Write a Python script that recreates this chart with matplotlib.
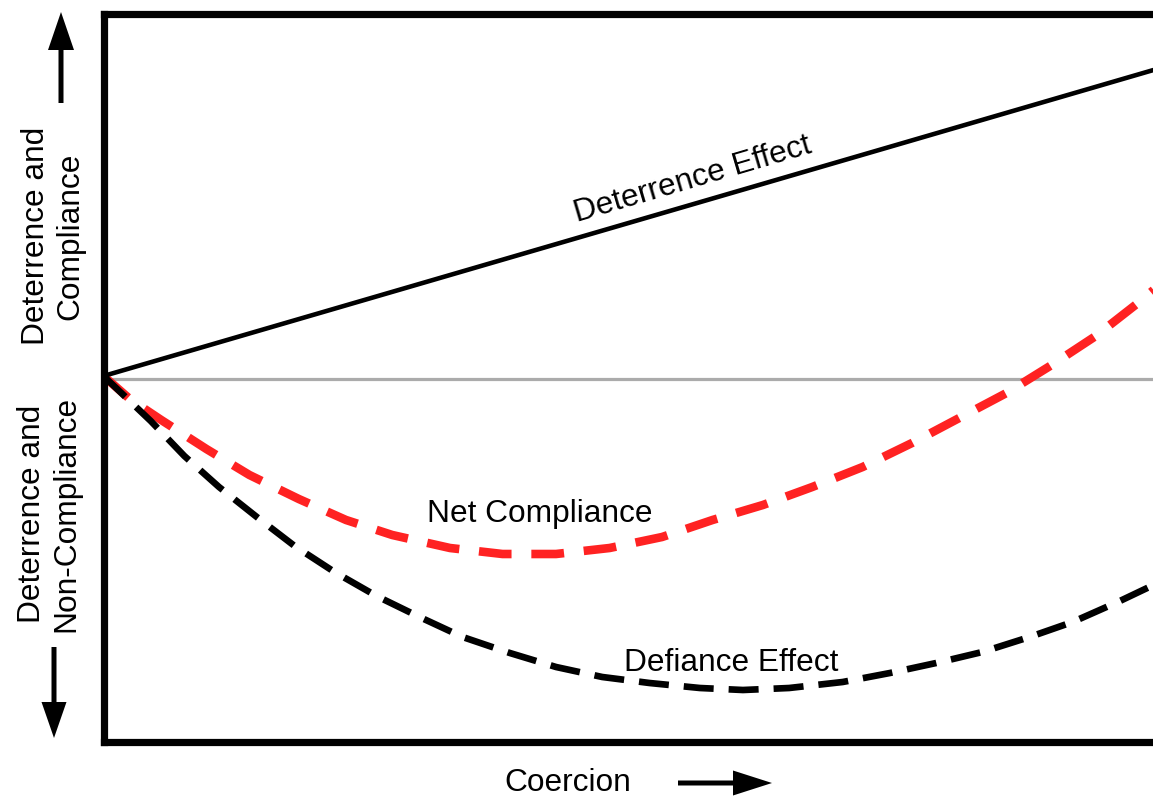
import numpy as np
import matplotlib
matplotlib.use("Agg")
import matplotlib.pyplot as plt
from matplotlib.patches import FancyArrow

plt.rcParams['font.family'] = ['Liberation Sans', 'DejaVu Sans']

# ---- data (coercion on x, effect on y; 0 = neutral) ----
deter_x = [0.0, 10.0]
deter_y = [0.3, 30.9]

net_x = [0.0, 0.25, 0.55, 0.98, 1.39, 1.86, 2.31, 2.75, 3.30, 3.80, 4.31, 4.82, 5.32,
         5.80, 6.28, 6.75, 7.23, 7.70, 8.15, 8.60, 9.03, 9.45, 9.84, 10.0]
net_y = [0.3, -2.0, -4.1, -7.0, -9.6, -12.0, -14.1, -15.6, -16.9, -17.5, -17.5, -16.9, -15.8,
         -14.1, -12.6, -10.8, -8.8, -6.4, -3.9, -1.4, 1.4, 4.3, 7.5, 8.9]

def_x = [0.0, 0.45, 0.77, 1.10, 1.46, 1.82, 2.20, 2.60, 3.01, 3.42, 3.87, 4.31, 4.75,
         5.20, 5.68, 6.09, 6.53, 7.04, 7.49, 7.93, 8.37, 8.82, 9.23, 9.66, 10.0]
def_y = [0.3, -4.2, -7.7, -10.8, -13.8, -16.7, -19.3, -21.7, -23.8, -25.8, -27.4, -28.8, -29.8,
         -30.4, -30.9, -31.1, -30.9, -30.3, -29.4, -28.4, -27.3, -25.8, -24.3, -22.3, -20.6]

labels = {
    'deter': 'Deterrence Effect',
    'net': 'Net Compliance',
    'def': 'Defiance Effect',
    'x': 'Coercion',
    'y_up': 'Deterrence and\nCompliance',
    'y_down': 'Deterrence and\nNon-Compliance',
}

W, H = 1153, 796
fig = plt.figure(figsize=(W / 100, H / 100), dpi=100)

left_px, right_px, top_px, bot_px = 103.5, 1160, 13.5, 742
ax = fig.add_axes([left_px / W, 1 - bot_px / H, (right_px - left_px) / W, (bot_px - top_px) / H])
ax.set_xlim(0, (right_px - left_px) / 105)
ax.set_ylim((379 - bot_px) / 10, (379 - top_px) / 10)
ax.set_xticks([])
ax.set_yticks([])
for s in ax.spines.values():
    s.set_linewidth(5.2)
    s.set_color('black')
    s.set_zorder(5)

ax.axhline(0, color='#ababab', lw=2.3, zorder=1)
ax.plot(deter_x, deter_y, color='black', lw=3.3, solid_capstyle='butt', zorder=3)
ax.plot(net_x, net_y, color='#ff2222', lw=6.2, linestyle=(0, (3.8, 2.3)), zorder=2)
ax.plot(def_x, def_y, color='black', lw=4.8, linestyle=(0, (4.5, 2.25)), zorder=2)

# overlay in pixel coordinates for annotations
ov = fig.add_axes([0, 0, 1, 1], facecolor='none')
ov.set_xlim(0, W)
ov.set_ylim(H, 0)
ov.axis('off')

fs = 22.8
ov.text(693, 180, labels['deter'], fontsize=fs, rotation=16.4, ha='center', va='center',
        rotation_mode='anchor')
ov.text(540, 514, labels['net'], fontsize=fs, ha='center', va='center')
ov.text(731, 663, labels['def'], fontsize=fs, ha='center', va='center')
ov.text(568, 783, labels['x'], fontsize=fs, ha='center', va='center')
ov.text(53, 236, labels['y_up'], fontsize=fs, rotation=90, ha='center', va='center',
        multialignment='center', linespacing=1.2)
ov.text(49, 514, labels['y_down'], fontsize=fs, rotation=90, ha='center', va='center',
        multialignment='center', linespacing=1.2)

# arrows
ov.add_patch(FancyArrow(61, 103, 0, -91, width=5, head_width=26, head_length=38,
                        length_includes_head=True, color='black', lw=0))
ov.add_patch(FancyArrow(54, 647, 0, 91, width=5, head_width=25, head_length=36,
                        length_includes_head=True, color='black', lw=0))
ov.add_patch(FancyArrow(678, 783, 94, 0, width=5, head_width=25, head_length=39,
                        length_includes_head=True, color='black', lw=0))

fig.savefig('out.png', dpi=100)
